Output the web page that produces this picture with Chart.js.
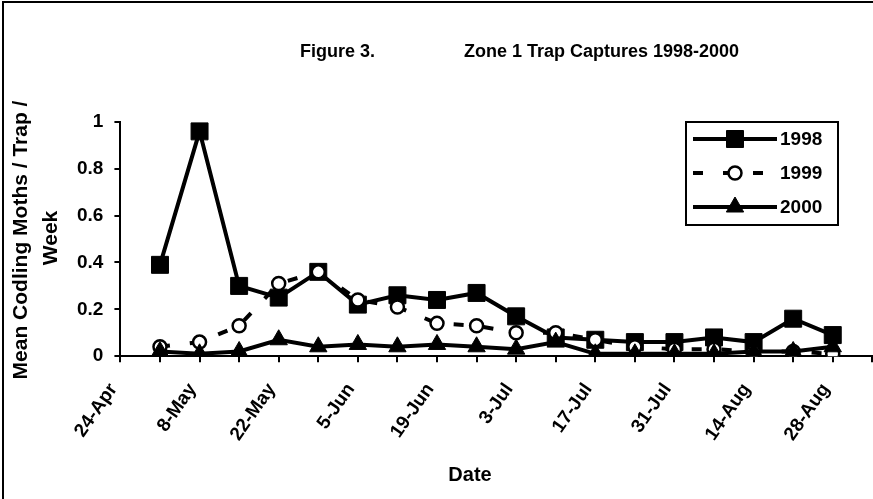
<!DOCTYPE html>
<html>
<head>
<meta charset="utf-8">
<script src="https://cdn.jsdelivr.net/npm/chart.js@4/dist/chart.umd.min.js"></script>
<style>
  html, body { margin: 0; padding: 0; background: #fff; overflow: hidden; }
  canvas { display: block; }
</style>
</head>
<body>
<!-- wider than the window: the date axis runs to the right edge of the view -->
<canvas id="trapChart" width="908" height="499"></canvas>
<script>
// Weekly trap check dates (every other one gets a label)
const weeks = ['24-Apr', '1-May', '8-May', '15-May', '22-May', '29-May', '5-Jun', '12-Jun',
  '19-Jun', '26-Jun', '3-Jul', '10-Jul', '17-Jul', '24-Jul', '31-Jul', '7-Aug',
  '14-Aug', '21-Aug', '28-Aug', '4-Sep'];

// Mean codling moths per trap per week
const captures1998 = [null, 0.39, 0.96, 0.30, 0.25, 0.36, 0.22, 0.26, 0.24, 0.27, 0.17,
  0.08, 0.07, 0.06, 0.06, 0.08, 0.06, 0.16, 0.09, null];
const captures1999 = [null, 0.04, 0.06, 0.13, 0.31, 0.36, 0.24, 0.21, 0.14, 0.13, 0.10,
  0.10, 0.07, 0.04, 0.03, 0.03, 0.02, 0.02, 0.01, null];
const captures2000 = [null, 0.02, 0.01, 0.02, 0.07, 0.04, 0.05, 0.04, 0.05, 0.04, 0.03,
  0.06, 0.01, 0.01, 0.01, 0.01, 0.02, 0.02, 0.04, null];

const yTicks = [0, 0.2, 0.4, 0.6, 0.8, 1];

const FAMILY = '"Liberation Sans", Arial, sans-serif';
const BOLD = 'bold 19px ' + FAMILY;
const TITLE_FONT = 'bold 18px ' + FAMILY;
const YTITLE_FONT = 'bold 21px ' + FAMILY;

// Titles, frame and the boxed legend are drawn by hand
const chartText = {
    id: 'chartText',
    afterDraw(chart) {
        const ctx = chart.ctx;
        ctx.save();

        // outer frame
        ctx.strokeStyle = '#000';
        ctx.lineWidth = 2;
        ctx.strokeRect(3, 2, 920, 520);

        ctx.fillStyle = '#000';
        ctx.font = TITLE_FONT;
        ctx.textBaseline = 'middle';
        ctx.textAlign = 'left';
        ctx.fillText('Figure 3.', 300, 52);
        ctx.fillText('Zone 1 Trap Captures 1998-2000', 464, 52);

        // x axis title
        ctx.font = 'bold 20px ' + FAMILY;
        ctx.textAlign = 'center';
        ctx.fillText('Date', 470, 475);

        // y axis title, two lines
        ctx.font = YTITLE_FONT;
        ctx.textBaseline = 'alphabetic';
        ctx.save();
        ctx.translate(27, 240);
        ctx.rotate(-Math.PI / 2);
        ctx.fillText('Mean Codling Moths / Trap /', 0, 0);
        ctx.restore();
        ctx.save();
        ctx.translate(57, 238);
        ctx.rotate(-Math.PI / 2);
        ctx.fillText('Week', 0, 0);
        ctx.restore();

        // legend
        const boxL = 686, boxT = 122, boxW = 152, boxH = 103;
        ctx.fillStyle = '#fff';
        ctx.fillRect(boxL, boxT, boxW, boxH);
        ctx.lineWidth = 2;
        ctx.strokeStyle = '#000';
        ctx.strokeRect(boxL, boxT, boxW, boxH);

        chart.data.datasets.forEach((ds, i) => {
            const y = 139 + i * 34;
            ctx.save();
            ctx.lineWidth = ds.borderWidth;
            ctx.strokeStyle = ds.borderColor;
            ctx.setLineDash(ds.borderDash || []);
            ctx.beginPath();
            ctx.moveTo(693, y);
            ctx.lineTo(777, y);
            ctx.stroke();
            ctx.setLineDash([]);
            ctx.fillStyle = ds.pointBackgroundColor;
            ctx.strokeStyle = ds.pointBorderColor;
            ctx.lineWidth = ds.pointBorderWidth;
            Chart.helpers.drawPoint(ctx, {
                pointStyle: ds.pointStyle,
                radius: ds.pointRadius,
                borderWidth: ds.pointBorderWidth,
                rotation: 0
            }, 735, y);
            ctx.restore();

            ctx.fillStyle = '#000';
            ctx.font = BOLD;
            ctx.textAlign = 'left';
            ctx.textBaseline = 'middle';
            ctx.fillText(ds.label, 780, y + 1);
        });

        ctx.restore();
    }
};

const ctx = document.getElementById('trapChart').getContext('2d');

new Chart(ctx, {
    type: 'line',
    data: {
        labels: weeks,
        datasets: [
            {
                label: '1998',
                data: captures1998,
                borderColor: '#000',
                borderWidth: 4,
                pointStyle: 'rect',
                pointRadius: 12,
                pointBackgroundColor: '#000',
                pointBorderColor: '#000',
                pointBorderWidth: 1,
                tension: 0,
                order: 3
            },
            {
                label: '1999',
                data: captures1999,
                borderColor: '#000',
                borderWidth: 4,
                borderDash: [10, 20],
                pointStyle: 'circle',
                pointRadius: 6.5,
                pointBackgroundColor: '#fff',
                pointBorderColor: '#000',
                pointBorderWidth: 2.5,
                tension: 0,
                order: 2
            },
            {
                label: '2000',
                data: captures2000,
                borderColor: '#000',
                borderWidth: 4,
                pointStyle: 'triangle',
                pointRadius: 10,
                pointBackgroundColor: '#000',
                pointBorderColor: '#000',
                pointBorderWidth: 1,
                tension: 0,
                order: 1
            }
        ]
    },
    options: {
        responsive: false,
        animation: false,
        layout: {
            padding: { top: 122, left: 66, right: 0, bottom: 37 }
        },
        plugins: {
            legend: { display: false },
            tooltip: { enabled: false }
        },
        scales: {
            x: {
                type: 'category',
                offset: false,
                border: { display: true, color: '#000', width: 2 },
                grid: {
                    display: true,
                    drawOnChartArea: false,
                    drawTicks: true,
                    tickLength: 6,
                    color: '#000',
                    lineWidth: 2
                },
                ticks: {
                    autoSkip: false,
                    minRotation: 55,
                    maxRotation: 55,
                    padding: 17,
                    labelOffset: -7,
                    color: '#000',
                    font: { family: FAMILY, size: 19, weight: 'bold' },
                    callback: (value, index) => (index % 2 === 0 ? weeks[index] : '')
                }
            },
            y: {
                min: 0,
                max: 1,
                afterBuildTicks: (scale) => {
                    scale.ticks = yTicks.map(v => ({ value: v }));
                },
                border: { display: true, color: '#000', width: 2 },
                grid: {
                    display: true,
                    drawOnChartArea: false,
                    drawTicks: true,
                    tickLength: 6,
                    color: '#000',
                    lineWidth: 2
                },
                ticks: {
                    padding: 11,
                    color: '#000',
                    font: { family: FAMILY, size: 19, weight: 'bold' },
                    callback: (value) => String(value)
                }
            }
        }
    },
    plugins: [chartText]
});
</script>
</body>
</html>
